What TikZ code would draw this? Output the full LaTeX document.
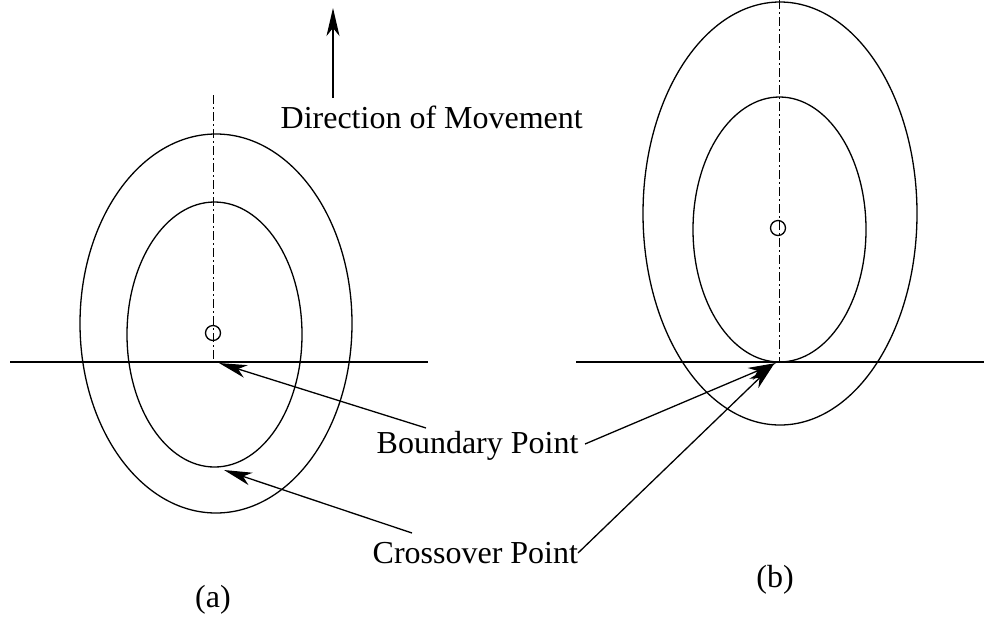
\documentclass[tikz,border=0pt]{standalone}
\usepackage{fontspec}
\setmainfont{Liberation Serif}
\usetikzlibrary{arrows.meta}

\begin{document}
\begin{tikzpicture}[x=1pt, y=-1pt,
  line width=1.3pt,
  lbl/.style = {font=\fontsize{32}{38}\selectfont, inner sep=0pt},
  arr/.style = {-{Stealth[length=28pt, width=13pt, inset=8pt]}},
  centreline/.style = {dash pattern=on 9pt off 3pt on 2pt off 3pt, line width=1pt},
]
  \useasboundingbox (0,0) rectangle (984,633);

  % (a) the window before the boundary is reached
  \draw (10,362) -- (428,362);
  \draw[centreline] (213,95) -- (213,362);
  \draw (213,333) circle (7.5);
  \draw (216,323.5) ellipse (136 and 189.5);
  \draw (214.5,334.5) ellipse (87.5 and 132.5);
  \coordinate (bndA)   at (219,363);
  \coordinate (crossA) at (224,470);

  % (b) the window touching the boundary
  \draw (576,362) -- (984,362);
  \draw[centreline] (779,0) -- (779,362);
  \draw (778,228) circle (7.5);
  \draw (780,213.5) ellipse (137 and 211.5);
  \draw (779.5,229.5) ellipse (86.5 and 132.5);
  \coordinate (bndB)   at (776,363);
  \coordinate (crossB) at (774,364);

  % labels
  \node[lbl, anchor=base west] (dir)   at (280,128) {Direction of Movement};
  \node[lbl, anchor=base west] (bnd)   at (376,453) {Boundary Point};
  \node[lbl, anchor=base west] (cross) at (372,563) {Crossover Point};
  \node[lbl] (capA) at (213,600) {(a)};
  \node[lbl] (capB) at (775,580) {(b)};

  \coordinate (dirTail)   at (333,98);
  \coordinate (dirTip)    at (333,8);
  \coordinate (bndTailA)  at (426,428);
  \coordinate (bndTailB)  at (585,444);
  \coordinate (crossTailA) at (412,533);
  \coordinate (crossTailB) at (578,553);

  \draw[arr] (dirTail) -- (dirTip);
  \draw[arr] (bndTailA) -- (bndA);
  \draw[arr] (bndTailB) -- (bndB);
  \draw[arr] (crossTailA) -- (crossA);
  \draw[arr] (crossTailB) -- (crossB);
\end{tikzpicture}
\end{document}
